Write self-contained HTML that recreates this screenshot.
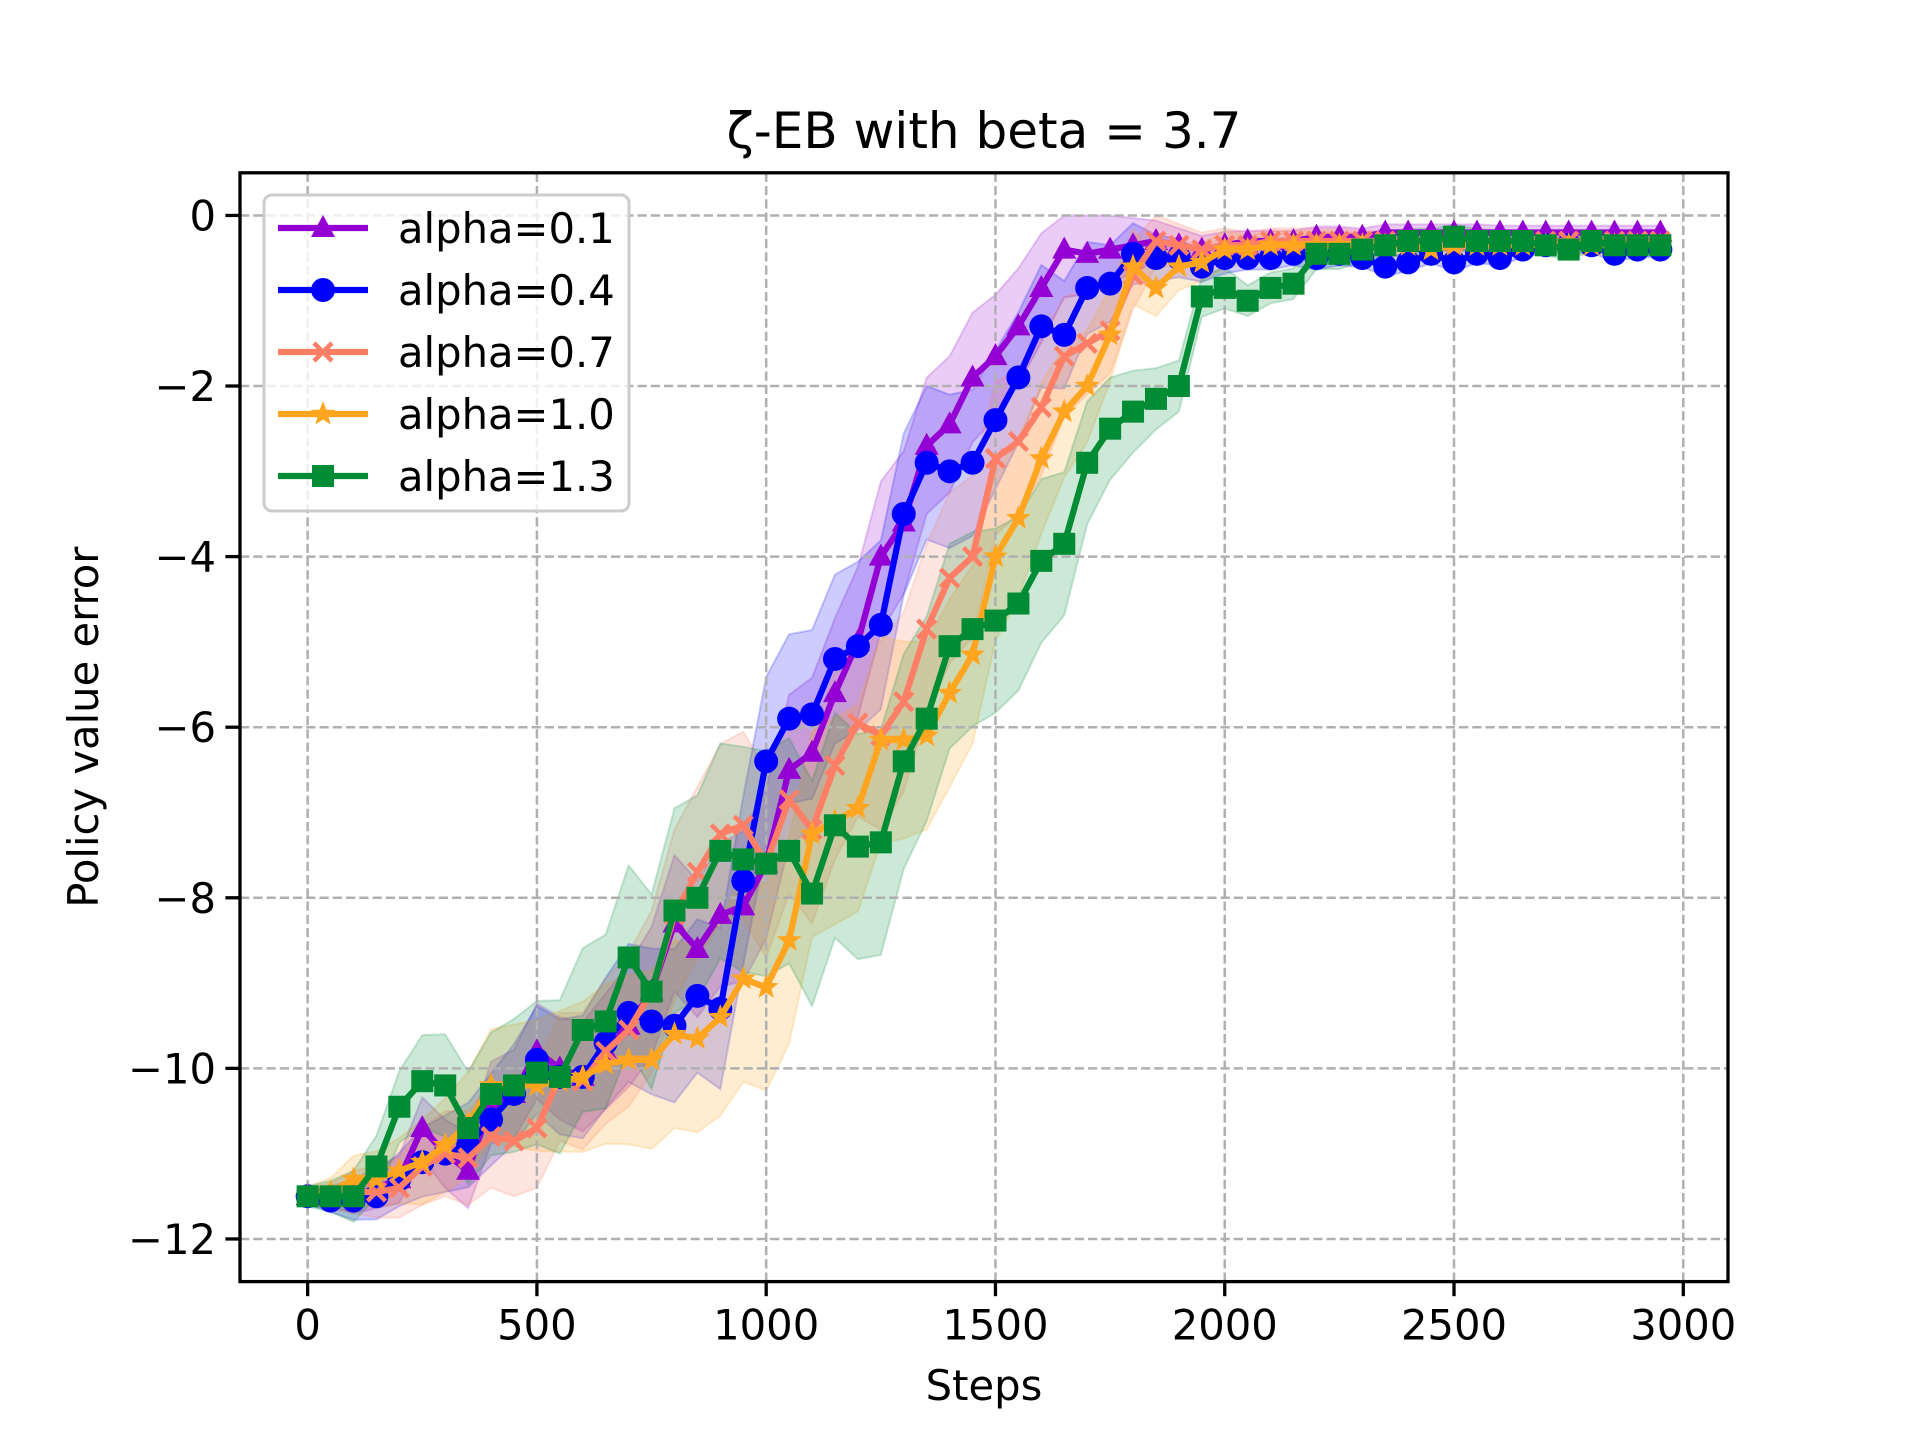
<!DOCTYPE html>
<html><head><meta charset="utf-8"><style>
html,body{margin:0;padding:0;background:#fff;}
svg{display:block;font-family:"DejaVu Sans","Liberation Sans",sans-serif;}
</style></head><body>
<svg id="chart" width="1920" height="1440" viewBox="0 0 1920 1440">
<rect x="0" y="0" width="1920" height="1440" fill="#fff"/>
<g id="bands"></g><g id="grid"></g><g id="lines"></g><g id="axes"></g><g id="legend"></g>
</svg>
<script>
const steps = Array.from({length:60},(_,i)=>i*50);
const seriesLabels = ["alpha=0.1","alpha=0.4","alpha=0.7","alpha=1.0","alpha=1.3"];
const seriesColors = ["#9400d3","#0000ff","#ff7f66","#ffa520","#008b35"];
const seriesMarkers = ["tri","circle","x","star","square"];
const valsA01 = [-11.5,-11.5,-11.5,-11.4,-11.3,-10.7,-11.0,-11.2,-10.4,-10.3,-9.8,-10.0,-10.1,-9.8,-9.5,-9.1,-8.3,-8.6,-8.2,-8.1,-7.6,-6.5,-6.3,-5.6,-5.0,-4.0,-3.6,-2.7,-2.45,-1.9,-1.65,-1.3,-0.85,-0.4,-0.45,-0.4,-0.35,-0.3,-0.35,-0.4,-0.35,-0.3,-0.3,-0.3,-0.25,-0.25,-0.25,-0.2,-0.2,-0.2,-0.2,-0.2,-0.2,-0.2,-0.2,-0.2,-0.2,-0.2,-0.2,-0.2];
const valsA04 = [-11.5,-11.55,-11.55,-11.5,-11.3,-11.1,-11.0,-10.9,-10.6,-10.3,-9.9,-10.1,-10.1,-9.7,-9.35,-9.45,-9.5,-9.15,-9.3,-7.8,-6.4,-5.9,-5.85,-5.2,-5.05,-4.8,-3.5,-2.9,-3.0,-2.9,-2.4,-1.9,-1.3,-1.4,-0.85,-0.8,-0.45,-0.5,-0.5,-0.6,-0.5,-0.5,-0.5,-0.45,-0.5,-0.45,-0.5,-0.6,-0.55,-0.45,-0.55,-0.45,-0.5,-0.4,-0.35,-0.35,-0.35,-0.45,-0.4,-0.4];
const valsA07 = [-11.5,-11.5,-11.45,-11.45,-11.4,-11.15,-11.0,-11.05,-10.8,-10.85,-10.7,-10.1,-10.15,-9.8,-9.55,-9.1,-8.2,-7.7,-7.25,-7.15,-7.6,-6.85,-7.2,-6.45,-5.95,-6.1,-5.7,-4.85,-4.25,-4.0,-2.85,-2.65,-2.25,-1.65,-1.5,-1.35,-0.7,-0.3,-0.35,-0.4,-0.35,-0.35,-0.3,-0.3,-0.3,-0.3,-0.3,-0.3,-0.3,-0.3,-0.3,-0.3,-0.3,-0.3,-0.3,-0.3,-0.3,-0.3,-0.3,-0.3];
const valsA10 = [-11.5,-11.45,-11.3,-11.3,-11.2,-11.1,-10.9,-10.65,-10.2,-10.2,-10.2,-10.15,-10.1,-9.95,-9.9,-9.9,-9.6,-9.65,-9.4,-8.95,-9.05,-8.5,-7.25,-7.1,-6.95,-6.15,-6.15,-6.1,-5.6,-5.15,-4.0,-3.55,-2.85,-2.3,-2.0,-1.4,-0.6,-0.85,-0.6,-0.55,-0.4,-0.4,-0.35,-0.35,-0.35,-0.35,-0.35,-0.35,-0.35,-0.4,-0.35,-0.35,-0.35,-0.35,-0.35,-0.35,-0.35,-0.35,-0.35,-0.35];
const valsA13 = [-11.5,-11.5,-11.5,-11.15,-10.45,-10.15,-10.2,-10.7,-10.3,-10.2,-10.05,-10.1,-9.55,-9.45,-8.7,-9.1,-8.15,-8.0,-7.45,-7.55,-7.6,-7.45,-7.95,-7.15,-7.4,-7.35,-6.4,-5.9,-5.05,-4.85,-4.75,-4.55,-4.05,-3.85,-2.9,-2.5,-2.3,-2.15,-2.0,-0.95,-0.85,-1.0,-0.85,-0.8,-0.45,-0.45,-0.4,-0.35,-0.3,-0.3,-0.25,-0.3,-0.3,-0.3,-0.35,-0.4,-0.3,-0.35,-0.35,-0.35];
const spreadEarly = [0.1,0.15,0.25,0.3,0.35,0.45,0.5,0.55,0.6,0.65,0.7,0.75,0.8,0.85,0.9,0.95,1.0,1.0,1.05,1.1,1.1,1.1,1.1,1.1,1.1,1.1,1.05,1.0,1.0,0.95,0.9,0.85,0.8,0.7,0.6,0.5,0.4,0.3,0.25,0.2,0.2,0.15,0.15,0.15,0.15,0.15,0.12,0.12,0.12,0.12,0.12,0.12,0.1,0.1,0.1,0.1,0.1,0.1,0.1,0.1];
const allVals = [valsA01,valsA04,valsA07,valsA10,valsA13];
const xTicks = [0,500,1000,1500,2000,2500,3000];
const yTicks = [0,-2,-4,-6,-8,-10,-12];

const NS="http://www.w3.org/2000/svg";
const L=240,R=1728,T=172.8,B=1281.6;
const xMin=-147.5,xMax=3097.5,yMin=-12.5,yMax=0.5;
const sx=v=>L+(v-xMin)/(xMax-xMin)*(R-L);
const sy=v=>B-(v-yMin)/(yMax-yMin)*(B-T);
function mk(tag,attrs,parent){const e=document.createElementNS(NS,tag);for(const k in attrs)e.setAttribute(k,attrs[k]);parent.appendChild(e);return e;}
const gB=document.getElementById('bands'),gG=document.getElementById('grid'),gL=document.getElementById('lines'),gA=document.getElementById('axes'),gLeg=document.getElementById('legend');

function marker(type,x,y,c,parent){
  let e;
  if(type==='circle'){e=mk('circle',{cx:x,cy:y,r:12,fill:c},parent);}
  else if(type==='square'){e=mk('rect',{x:x-11,y:y-11,width:22,height:22,fill:c},parent);}
  else if(type==='tri'){e=mk('polygon',{points:`${x},${y-13} ${x-12},${y+9} ${x+12},${y+9}`,fill:c},parent);}
  else if(type==='x'){e=mk('path',{d:`M${x-9},${y-9}L${x+9},${y+9}M${x-9},${y+9}L${x+9},${y-9}`,stroke:c,'stroke-width':4.5,fill:'none'},parent);}
  else {let p=[];for(let i=0;i<10;i++){const r=i%2?5.5:13;const a=-Math.PI/2+i*Math.PI/5;p.push((x+r*Math.cos(a)).toFixed(1)+','+(y+r*Math.sin(a)).toFixed(1));}
    e=mk('polygon',{points:p.join(' '),fill:c},parent);}
  
  
}

allVals.forEach((vals,si)=>{
  const up=vals.map((v,i)=>`${sx(steps[i])},${sy(Math.min(0,v+spreadEarly[i]*(0.8+0.1*si)))}`);
  const lo=vals.map((v,i)=>`${sx(steps[i])},${sy(v-spreadEarly[i]*(0.8+0.1*si))}`).reverse();
  const p=mk('polygon',{points:up.concat(lo).join(' '),fill:seriesColors[si],'fill-opacity':0.2,stroke:seriesColors[si],'stroke-opacity':0.2,'stroke-width':2},gB);
  
  
});
xTicks.forEach(t=>{const l=mk('line',{x1:sx(t),x2:sx(t),y1:T,y2:B,stroke:'#b0b0b0','stroke-width':2.5,'stroke-dasharray':'9.25,4'},gG);
  });
yTicks.forEach(t=>{const l=mk('line',{x1:L,x2:R,y1:sy(t),y2:sy(t),stroke:'#b0b0b0','stroke-width':2.5,'stroke-dasharray':'9.25,4'},gG);
  });
allVals.forEach((vals,si)=>{
  const g=mk('g',{},gL);
  
  
  mk('polyline',{points:vals.map((v,i)=>`${sx(steps[i])},${sy(v)}`).join(' '),fill:'none',stroke:seriesColors[si],'stroke-width':6.25,'stroke-linejoin':'round'},g);
  vals.forEach((v,i)=>marker(seriesMarkers[si],sx(steps[i]),sy(v),seriesColors[si],g));
});
const fr=mk('rect',{x:L,y:T,width:R-L,height:B-T,fill:'none',stroke:'#000','stroke-width':3.3},gA);

xTicks.forEach(t=>{mk('line',{x1:sx(t),x2:sx(t),y1:B,y2:B+14.6,stroke:'#000','stroke-width':3.3},gA);
  const tx=mk('text',{x:sx(t),y:B+58,'font-size':41.7,'text-anchor':'middle',fill:'#000'},gA);tx.textContent=t;
  });
yTicks.forEach(t=>{mk('line',{x1:L-14.6,x2:L,y1:sy(t),y2:sy(t),stroke:'#000','stroke-width':3.3},gA);
  const tx=mk('text',{x:L-24,y:sy(t)+15,'font-size':41.7,'text-anchor':'end',fill:'#000'},gA);tx.textContent=(t<0?'\u2212'+(-t):t);
  });
const xl=mk('text',{x:(L+R)/2,y:1400,'font-size':41.7,'text-anchor':'middle'},gA);xl.textContent='Steps';

const yl=mk('text',{x:0,y:0,'font-size':41.7,'text-anchor':'middle',transform:`translate(98,${(T+B)/2}) rotate(-90)`},gA);yl.textContent='Policy value error';

const tt=mk('text',{x:(L+R)/2,y:148,'font-size':50,'text-anchor':'middle'},gA);tt.textContent='\u03b6-EB with beta = 3.7';

const lb=mk('rect',{x:264,y:195,width:365,height:316,rx:8,fill:'#fff','fill-opacity':0.8,stroke:'#ccc','stroke-width':3},gLeg);

seriesLabels.forEach((lab,si)=>{
  const y=228+si*62;
  const g=mk('g',{},gLeg);
  
  
  mk('line',{x1:278,x2:368,y1:y,y2:y,stroke:seriesColors[si],'stroke-width':6.25},g);
  marker(seriesMarkers[si],323,y,seriesColors[si],g);
  const t=mk('text',{x:398,y:y+15,'font-size':41.7},g);t.textContent=lab;
});
</script>
</body></html>
